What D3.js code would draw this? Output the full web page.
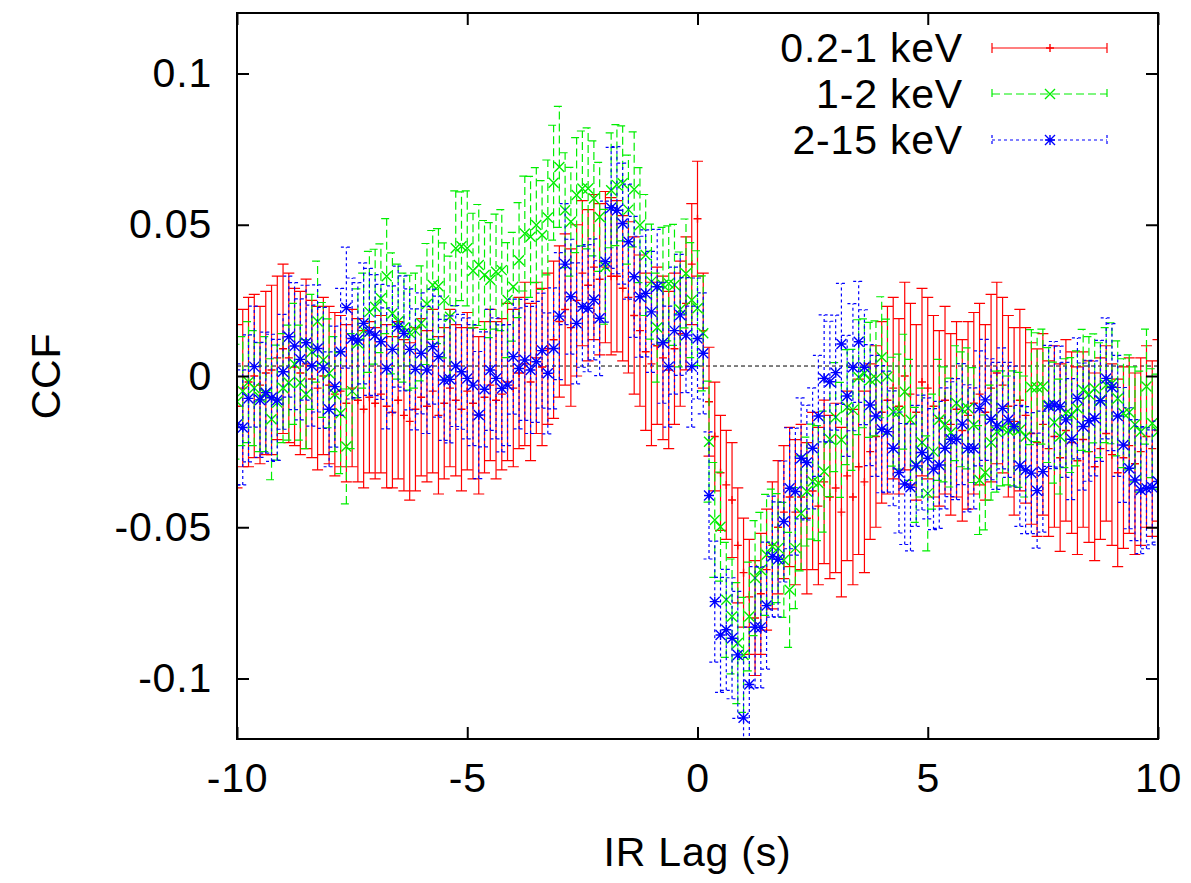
<!DOCTYPE html>
<html>
<head>
<meta charset="utf-8">
<title>CCF vs IR lag</title>
<script src="https://cdnjs.cloudflare.com/ajax/libs/d3/7.8.5/d3.min.js"></script>
<style>
  body { margin: 0; background: #fff; }
  text { font-family: "Liberation Sans", Arial, Helvetica, sans-serif; }
</style>
</head>
<body>
<div id="chart"></div>
<script>
// lag bins (s)
var lags = [
  -10,-9.875,-9.75,-9.625,-9.5,-9.375,-9.25,-9.125,-9,-8.875,-8.75,-8.625,-8.5,-8.375,-8.25,-8.125,
  -8,-7.875,-7.75,-7.625,-7.5,-7.375,-7.25,-7.125,-7,-6.875,-6.75,-6.625,-6.5,-6.375,-6.25,-6.125,
  -6,-5.875,-5.75,-5.625,-5.5,-5.375,-5.25,-5.125,-5,-4.875,-4.75,-4.625,-4.5,-4.375,-4.25,-4.125,
  -4,-3.875,-3.75,-3.625,-3.5,-3.375,-3.25,-3.125,-3,-2.875,-2.75,-2.625,-2.5,-2.375,-2.25,-2.125,
  -2,-1.875,-1.75,-1.625,-1.5,-1.375,-1.25,-1.125,-1,-0.875,-0.75,-0.625,-0.5,-0.375,-0.25,-0.125,
  0,
  0.125,0.25,0.375,0.5,0.625,0.75,0.875,1,1.125,1.25,1.375,1.5,1.625,1.75,1.875,2,
  2.125,2.25,2.375,2.5,2.625,2.75,2.875,3,3.125,3.25,3.375,3.5,3.625,3.75,3.875,4,
  4.125,4.25,4.375,4.5,4.625,4.75,4.875,5,5.125,5.25,5.375,5.5,5.625,5.75,5.875,6,
  6.125,6.25,6.375,6.5,6.625,6.75,6.875,7,7.125,7.25,7.375,7.5,7.625,7.75,7.875,8,
  8.125,8.25,8.375,8.5,8.625,8.75,8.875,9,9.125,9.25,9.375,9.5,9.625,9.75,9.875,10
];

// 0.2-1 keV
var softCCF = [
  -0.010,-0.004,-0.002,0.000,-0.003,0.001,0.002,0.006,0.009,0.006,0.003,0.001,0.004,-0.001,-0.004,0.000,
  -0.003,-0.006,-0.005,-0.009,-0.004,-0.008,-0.011,-0.007,-0.009,-0.006,-0.010,-0.012,-0.008,-0.013,-0.015,-0.011,
  -0.007,-0.010,-0.005,-0.013,-0.009,-0.004,-0.008,-0.011,-0.005,-0.009,-0.013,-0.007,-0.003,-0.008,-0.006,-0.002,
  -0.004,0.001,0.004,-0.002,0.006,0.003,0.009,0.012,0.018,0.022,0.016,0.025,0.034,0.030,0.036,0.032,
  0.036,0.033,0.033,0.029,0.026,0.020,0.015,0.008,0.004,0.010,0.006,0.002,0.009,0.014,0.024,0.037,
  0.052,
  0.015,-0.0085,-0.020,-0.032,-0.036,-0.041,-0.056,-0.065,-0.073,-0.080,-0.072,-0.064,-0.056,-0.050,-0.045,-0.040,
  -0.045,-0.040,-0.047,-0.038,-0.043,-0.035,-0.040,-0.037,-0.045,-0.033,-0.040,-0.030,-0.035,-0.025,-0.020,-0.012,
  -0.008,-0.004,-0.010,0.000,-0.006,-0.012,-0.002,-0.004,-0.010,-0.014,-0.008,-0.016,-0.011,-0.018,-0.013,-0.009,
  -0.006,-0.012,-0.004,0.001,-0.003,-0.010,-0.015,-0.008,-0.013,-0.019,-0.022,-0.016,-0.024,-0.020,-0.027,-0.018,
  -0.022,-0.028,-0.021,-0.025,-0.030,-0.024,-0.019,-0.026,-0.032,-0.027,-0.023,-0.029,-0.025,-0.020,-0.024,-0.018
];
var softErr = [
  0.027,0.026,0.028,0.027,0.026,0.027,0.028,0.027,0.028,0.028,0.026,0.027,0.028,0.026,0.027,0.026,
  0.026,0.027,0.025,0.026,0.026,0.027,0.026,0.025,0.025,0.026,0.027,0.025,0.026,0.025,0.026,0.027,
  0.026,0.025,0.027,0.026,0.025,0.026,0.025,0.027,0.026,0.025,0.026,0.025,0.025,0.026,0.025,0.026,
  0.026,0.025,0.027,0.026,0.025,0.026,0.025,0.026,0.025,0.025,0.026,0.025,0.024,0.025,0.024,0.025,
  0.025,0.026,0.025,0.024,0.025,0.026,0.025,0.026,0.027,0.026,0.027,0.026,0.025,0.024,0.022,0.020,
  0.019,
  0.019,0.018,0.018,0.019,0.018,0.019,0.019,0.018,0.019,0.019,0.020,0.020,0.021,0.022,0.022,0.023,
  0.024,0.024,0.025,0.026,0.026,0.027,0.027,0.028,0.028,0.028,0.029,0.029,0.030,0.029,0.030,0.030,
  0.031,0.030,0.029,0.031,0.030,0.029,0.031,0.030,0.030,0.029,0.031,0.030,0.029,0.030,0.031,0.030,
  0.030,0.029,0.031,0.030,0.029,0.030,0.031,0.030,0.029,0.030,0.031,0.030,0.029,0.030,0.031,0.030,
  0.030,0.031,0.029,0.030,0.031,0.030,0.029,0.030,0.031,0.030,0.029,0.030,0.031,0.030,0.029,0.030
];

// 1-2 keV
var midCCF = [
  -0.0085,-0.005,-0.002,-0.004,-0.007,-0.006,-0.0143,-0.0088,-0.004,-0.0022,0.004,-0.0022,-0.006,0.008,0.018,0.0053,
  0.0009,-0.006,-0.0123,-0.0233,-0.005,0.0108,0.015,0.0212,0.0229,0.0257,0.033,0.0207,0.018,0.016,0.0143,0.015,
  0.0174,0.0238,0.0301,0.0297,0.025,0.0196,0.0422,0.0429,0.0422,0.0348,0.0367,0.0334,0.0317,0.0345,0.035,0.0251,
  0.0295,0.0383,0.0471,0.046,0.0499,0.0466,0.0524,0.0639,0.0691,0.0548,0.051,0.0598,0.062,0.062,0.0587,0.0526,
  0.0361,0.0614,0.0631,0.0637,0.055,0.0617,0.0499,0.040,0.0312,0.016,0.0301,0.0306,0.0301,0.022,0.0339,0.0251,
  0.0224,
  0.0141,-0.0217,-0.0476,-0.0498,-0.074,-0.0795,-0.0883,-0.0922,-0.0795,-0.0668,-0.0641,-0.0591,-0.0564,-0.0569,-0.0608,-0.0707,
  -0.0569,-0.0454,-0.0382,-0.0349,-0.0354,-0.0316,-0.0209,-0.0136,-0.0211,-0.0103,-0.0112,-0.0004,0.0009,-0.0013,-0.0008,0.0062,
  -0.0002,-0.0118,-0.0118,-0.0052,-0.0145,-0.0294,-0.022,-0.0388,-0.025,-0.0145,-0.016,-0.0187,-0.009,-0.011,-0.0107,-0.0162,
  -0.0344,-0.0319,-0.022,-0.0184,-0.0173,-0.018,-0.0173,-0.0178,-0.020,-0.0037,-0.0037,-0.0035,-0.0096,-0.0154,-0.020,-0.0123,
  -0.0129,-0.0107,-0.0046,-0.006,-0.0041,-0.008,-0.003,-0.0024,-0.0074,-0.0123,-0.012,-0.016,-0.0184,-0.0035,-0.0156,-0.0184
];
var midErr = [
  0.019,0.018,0.020,0.019,0.018,0.019,0.020,0.019,0.018,0.019,0.020,0.019,0.018,0.019,0.020,0.019,
  0.018,0.019,0.020,0.019,0.019,0.018,0.019,0.020,0.019,0.018,0.019,0.020,0.019,0.018,0.019,0.019,
  0.019,0.020,0.018,0.019,0.019,0.020,0.019,0.018,0.019,0.019,0.020,0.018,0.019,0.019,0.020,0.019,
  0.018,0.019,0.019,0.020,0.019,0.018,0.019,0.019,0.020,0.019,0.018,0.019,0.019,0.020,0.019,0.018,
  0.019,0.019,0.020,0.019,0.018,0.019,0.019,0.020,0.019,0.018,0.019,0.019,0.020,0.019,0.018,0.019,
  0.019,
  0.019,0.020,0.019,0.018,0.019,0.019,0.020,0.019,0.018,0.019,0.019,0.020,0.019,0.018,0.019,0.019,
  0.020,0.019,0.018,0.019,0.019,0.020,0.019,0.018,0.019,0.019,0.020,0.019,0.018,0.019,0.019,0.020,
  0.019,0.018,0.019,0.019,0.020,0.019,0.018,0.019,0.019,0.020,0.019,0.018,0.019,0.019,0.020,0.019,
  0.018,0.019,0.019,0.020,0.019,0.018,0.019,0.019,0.020,0.019,0.018,0.019,0.019,0.020,0.019,0.018,
  0.019,0.019,0.020,0.019,0.018,0.019,0.019,0.020,0.019,0.018,0.019,0.019,0.020,0.019,0.018,0.019
];

// 2-15 keV
var hardCCF = [
  -0.016,-0.017,-0.0074,0.0031,-0.0079,-0.0055,-0.0072,-0.0079,0.0014,0.013,0.0099,0.0055,0.011,0.0034,0.0091,0.0027,
  -0.011,-0.0035,0.008,0.0226,0.0124,0.0119,0.0174,0.0146,0.0135,0.0113,0.0025,0.0088,0.0163,0.0141,0.0088,0.0022,
  0.0075,0.002,0.0097,0.0064,-0.0013,-0.0011,0.0033,0.0014,-0.0008,-0.003,-0.0129,-0.0044,0.002,-0.0008,-0.0041,-0.003,
  0.0064,0.0025,0.0053,0.002,0.0047,0.0084,0.0009,0.0091,0.0198,0.037,0.0262,0.0174,0.0229,0.0224,0.0253,0.0191,
  0.0378,0.0556,0.0548,0.0504,0.0444,0.0328,0.0262,0.0273,0.0212,0.0295,0.011,0.0031,0.015,0.0202,0.0135,0.0031,
  0.0124,
  0.0075,-0.0395,-0.0746,-0.0856,-0.0839,-0.0867,-0.0922,-0.113,-0.102,-0.083,-0.0831,-0.0759,-0.0597,-0.0606,-0.0481,-0.0371,
  -0.0382,-0.0272,-0.0286,-0.0239,-0.0132,-0.0008,-0.0019,0.0011,0.0106,-0.0066,0.0029,0.0113,0.0029,-0.0096,-0.0132,-0.0176,
  -0.0184,-0.0239,-0.0319,-0.0357,-0.0368,-0.0297,-0.0253,-0.0272,-0.0308,-0.0294,-0.0239,-0.0209,-0.0209,-0.0159,-0.0239,-0.0239,
  -0.0107,-0.0079,-0.0143,-0.0165,-0.0107,-0.0145,-0.0167,-0.0297,-0.0311,-0.0321,-0.0379,-0.0316,-0.0099,-0.0096,-0.0101,-0.0145,
  -0.0209,-0.0074,-0.0167,-0.0148,-0.014,-0.0082,-0.0008,-0.0037,-0.0132,-0.0228,-0.0305,-0.0344,-0.0377,-0.0371,-0.0368,-0.0349
];
var hardErr = [
  0.020,0.019,0.021,0.020,0.019,0.020,0.021,0.020,0.019,0.020,0.021,0.020,0.019,0.020,0.021,0.020,
  0.019,0.020,0.021,0.020,0.020,0.019,0.020,0.021,0.020,0.019,0.020,0.021,0.020,0.019,0.020,0.020,
  0.020,0.021,0.019,0.020,0.020,0.021,0.020,0.019,0.020,0.020,0.021,0.019,0.020,0.020,0.021,0.020,
  0.019,0.020,0.020,0.021,0.020,0.019,0.020,0.020,0.021,0.020,0.019,0.020,0.020,0.021,0.020,0.019,
  0.020,0.020,0.021,0.020,0.019,0.020,0.020,0.021,0.020,0.019,0.020,0.020,0.021,0.020,0.019,0.020,
  0.020,
  0.020,0.021,0.020,0.019,0.020,0.020,0.021,0.020,0.019,0.020,0.020,0.021,0.020,0.019,0.020,0.020,
  0.021,0.020,0.019,0.020,0.020,0.021,0.020,0.019,0.020,0.020,0.021,0.020,0.019,0.020,0.020,0.021,
  0.020,0.019,0.020,0.020,0.021,0.020,0.019,0.020,0.020,0.021,0.020,0.019,0.020,0.020,0.021,0.020,
  0.019,0.020,0.020,0.021,0.020,0.019,0.020,0.020,0.021,0.020,0.019,0.020,0.020,0.021,0.020,0.019,
  0.020,0.020,0.021,0.020,0.019,0.020,0.020,0.021,0.020,0.019,0.020,0.020,0.021,0.020,0.019,0.020
];

var seriesLabels = ['0.2-1 keV', '1-2 keV', '2-15 keV'];
var xTicks = [-10, -5, 0, 5, 10];
var xTickLabels = ['-10', '-5', '0', '5', '10'];
var yTicks = [-0.1, -0.05, 0, 0.05, 0.1];
var yTickLabels = ['-0.1', '-0.05', '0', '0.05', '0.1'];
var refLevel = 0.0033;   // dashed horizontal line

(function(d3) {
  'use strict';

  var width = 1191;
  var height = 883;
  var margin = {top: 13, right: 33, bottom: 144, left: 237};
  var fontSize = 41;
  var letterSp = '0.8px';
  var tickLen = 12;
  var capW = 5.5;    // half width of error bar caps
  var mk = 5;        // half size of point markers

  var x = d3.scaleLinear().domain([-10, 10]).range([margin.left, width - margin.right]);
  var y = d3.scaleLinear().domain([-0.12, 0.12]).range([height - margin.bottom, margin.top]);

  var svg = d3.select('#chart')
    .append('svg')
    .attr('width', width)
    .attr('height', height)
    .style('display', 'block');

  svg.append('rect')
    .attr('width', width)
    .attr('height', height)
    .attr('fill', '#fff');

  svg.append('clipPath')
    .attr('id', 'plotclip')
    .append('rect')
    .attr('x', x(-10))
    .attr('y', y(0.12))
    .attr('width', x(10) - x(-10))
    .attr('height', y(-0.12) - y(0.12));

  var series = [
    {label: seriesLabels[0], vals: softCCF, errs: softErr, color: '#ff0000', dash: null, marker: 'plus'},
    {label: seriesLabels[1], vals: midCCF, errs: midErr, color: '#00ee00', dash: '8,4', marker: 'cross'},
    {label: seriesLabels[2], vals: hardCCF, errs: hardErr, color: '#0000ff', dash: '3,3', marker: 'star'}
  ];

  function markerPath(type, px, py, s) {
    var p = '';
    if (type === 'plus' || type === 'star') {
      p += 'M' + (px - s) + ',' + py + 'H' + (px + s) + 'M' + px + ',' + (py - s) + 'V' + (py + s);
    }
    if (type === 'cross' || type === 'star') {
      p += 'M' + (px - s) + ',' + (py - s) + 'L' + (px + s) + ',' + (py + s) +
           'M' + (px - s) + ',' + (py + s) + 'L' + (px + s) + ',' + (py - s);
    }
    return p;
  }

  function barPath(px, lo, hi) {
    return 'M' + px + ',' + lo + 'V' + hi +
      'M' + (px - capW) + ',' + hi + 'H' + (px + capW) +
      'M' + (px - capW) + ',' + lo + 'H' + (px + capW);
  }

  // dashed reference line
  svg.append('line')
    .attr('x1', x(-10))
    .attr('x2', x(10))
    .attr('y1', y(refLevel))
    .attr('y2', y(refLevel))
    .attr('stroke', '#000')
    .attr('stroke-width', 1)
    .attr('stroke-dasharray', '4,3');

  var plot = svg.append('g').attr('clip-path', 'url(#plotclip)');

  series.forEach(function(s) {
    var pts = lags.map(function(l, i) {
      return {lag: l, v: s.vals[i], e: s.errs[i]};
    });
    var g = plot.append('g')
      .attr('stroke', s.color)
      .attr('fill', 'none');

    g.append('g')
      .attr('stroke-width', 1.2)
      .attr('stroke-dasharray', s.dash)
      .selectAll('path')
      .data(pts)
      .join('path')
      .attr('d', function(d) {
        return barPath(x(d.lag), y(d.v - d.e), y(d.v + d.e));
      });

    g.append('g')
      .attr('stroke-width', 1.4)
      .selectAll('path')
      .data(pts)
      .join('path')
      .attr('d', function(d) {
        return markerPath(s.marker, x(d.lag), y(d.v), s.marker === 'plus' ? 4 : mk);
      });
  });

  // axes, ticks pointing inwards on all four sides
  function styleAxis(g) {
    g.select('.domain').remove();
    g.selectAll('.tick line').attr('stroke', '#000').attr('stroke-width', 2);
    g.selectAll('.tick text')
      .attr('fill', '#000')
      .style('font-size', fontSize + 'px')
      .style('letter-spacing', letterSp)
      .style('font-family', '"Liberation Sans", Arial, Helvetica, sans-serif');
  }

  svg.append('g')
    .attr('transform', 'translate(0,' + y(-0.12) + ')')
    .call(d3.axisBottom(x).tickValues(xTicks)
      .tickFormat(function(d, i) { return xTickLabels[i]; })
      .tickSizeInner(-tickLen).tickSizeOuter(0).tickPadding(24))
    .call(styleAxis);

  svg.append('g')
    .attr('transform', 'translate(0,' + y(0.12) + ')')
    .call(d3.axisTop(x).tickValues(xTicks).tickFormat('')
      .tickSizeInner(-tickLen).tickSizeOuter(0))
    .call(styleAxis);

  svg.append('g')
    .attr('transform', 'translate(' + x(-10) + ',0)')
    .call(d3.axisLeft(y).tickValues(yTicks)
      .tickFormat(function(d, i) { return yTickLabels[i]; })
      .tickSizeInner(-tickLen).tickSizeOuter(0).tickPadding(25))
    .call(styleAxis);

  svg.append('g')
    .attr('transform', 'translate(' + x(10) + ',0)')
    .call(d3.axisRight(y).tickValues(yTicks).tickFormat('')
      .tickSizeInner(-tickLen).tickSizeOuter(0))
    .call(styleAxis);

  svg.append('rect')
    .attr('x', x(-10))
    .attr('y', y(0.12))
    .attr('width', x(10) - x(-10))
    .attr('height', y(-0.12) - y(0.12))
    .attr('fill', 'none')
    .attr('stroke', '#000')
    .attr('stroke-width', 2);

  // axis titles
  svg.append('text')
    .attr('x', (x(-10) + x(10)) / 2)
    .attr('y', 866)
    .attr('text-anchor', 'middle')
    .style('font-size', fontSize + 'px')
    .style('letter-spacing', letterSp)
    .text('IR Lag (s)');

  svg.append('text')
    .attr('transform', 'translate(60,' + y(0) + ') rotate(-90)')
    .attr('text-anchor', 'middle')
    .style('font-size', fontSize + 'px')
    .style('letter-spacing', letterSp)
    .text('CCF');

  // legend
  var legendRow = 46;
  var legend = svg.selectAll('.legend')
    .data(series)
    .enter()
    .append('g')
    .attr('class', 'legend')
    .attr('transform', function(d, i) {
      return 'translate(0,' + (48 + i * legendRow) + ')';
    });

  legend.append('text')
    .attr('x', 963)
    .attr('y', 14)
    .attr('text-anchor', 'end')
    .style('font-size', fontSize + 'px')
    .style('letter-spacing', letterSp)
    .text(function(d) { return d.label; });

  legend.append('path')
    .attr('d', 'M992,0H1107M992,-5V5M1107,-5V5')
    .attr('fill', 'none')
    .attr('stroke', function(d) { return d.color; })
    .attr('stroke-width', 1.2)
    .attr('stroke-dasharray', function(d) { return d.dash; });

  legend.append('path')
    .attr('d', function(d) {
      return markerPath(d.marker, 1050, 0, d.marker === 'plus' ? 4 : mk);
    })
    .attr('fill', 'none')
    .attr('stroke', function(d) { return d.color; })
    .attr('stroke-width', 1.4);

})(window.d3);
</script>
</body>
</html>
